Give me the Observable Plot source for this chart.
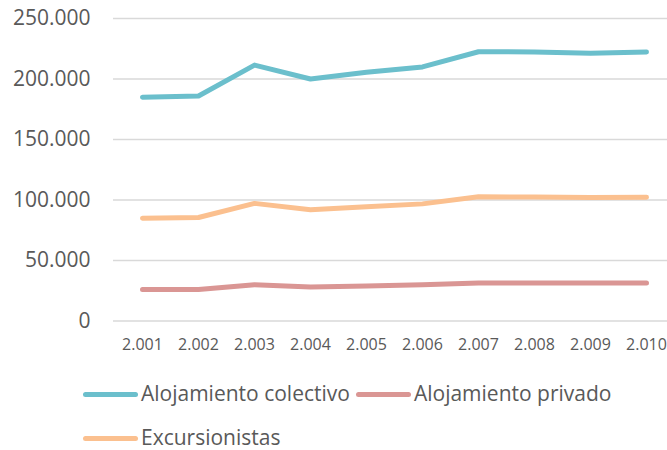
<!DOCTYPE html>
<html>
<head>
<meta charset="utf-8">
<script src="https://cdn.jsdelivr.net/npm/d3@7"></script>
<script src="https://cdn.jsdelivr.net/npm/@observablehq/plot@0.6"></script>
<style>
  html, body { margin: 0; padding: 0; background: #fff; overflow: hidden; }
  body { width: 667px; height: 450px; font-family: "Open Sans", sans-serif; }
  #legend { margin-top: 7px; padding-left: 83px; color: #595959; font-size: 21px; line-height: 1.1; }
  .row { height: 44px; display: flex; align-items: center; }
  .item { display: inline-flex; align-items: center; margin-right: 6px; }
  .swatch { width: 55px; height: 5px; border-radius: 3px; margin-right: 3px; }
</style>
</head>
<body>
<div id="chart"></div>
<div id="legend"></div>
<script>
const years = ["2.001","2.002","2.003","2.004","2.005","2.006","2.007","2.008","2.009","2.010"];
const colectivo = [185000, 186000, 211500, 200000, 205500, 210000, 222500, 222400, 221300, 222300];
const privado = [26000, 26000, 30000, 28000, 29000, 30000, 31500, 31500, 31400, 31400];
const excursionistas = [85000, 85500, 97200, 92000, 94500, 96800, 102600, 102500, 102000, 102300];
const seriesNames = ["Alojamiento colectivo", "Alojamiento privado", "Excursionistas"];
const seriesColors = ["#6bbfcc", "#da9694", "#fbc08f"];
const yTicks = [0, 50000, 100000, 150000, 200000, 250000];

const seriesValues = [colectivo, privado, excursionistas];
const data = seriesNames.flatMap((name, s) =>
  years.map((year, i) => ({ year, value: seriesValues[s][i], series: name })));

const fmt = d3.formatLocale({ decimal: ",", thousands: ".", grouping: [3], currency: ["", ""] }).format(",d");

const width = 667, height = 365;
const marginLeft = 113, marginRight = 0, marginTop = 18, marginBottom = 44.5;
const step = (width + 8 - marginLeft) / years.length;

const chart = Plot.plot({
  width, height, marginLeft, marginRight, marginTop, marginBottom,
  style: { fontFamily: "Open Sans, sans-serif", color: "#595959", background: "#fff", overflow: "visible" },
  x: { type: "point", domain: years, padding: 0, range: [marginLeft + step / 2, width + 8 - step / 2] },
  y: { domain: [0, 250000] },
  color: { domain: seriesNames, range: seriesColors },
  marks: [
    Plot.gridY(yTicks, { stroke: "#d9d9d9", strokeOpacity: 1, strokeWidth: 1.3 }),
    Plot.axisY(yTicks, { tickSize: 0, tickPadding: 23, tickFormat: fmt, fontSize: 21, fill: "#595959", label: null }),
    Plot.axisX(years, { tickSize: 0, tickPadding: 18, fontSize: 16, fill: "#595959", label: null }),
    Plot.line(data, { x: "year", y: "value", z: "series", stroke: "series", strokeWidth: 5, strokeLinecap: "round", strokeLinejoin: "round" })
  ]
});
document.getElementById("chart").appendChild(chart);

const legend = document.getElementById("legend");
const rows = [[0, 1], [2]];
rows.forEach(r => {
  const row = document.createElement("div");
  row.className = "row";
  r.forEach(i => {
    const item = document.createElement("span");
    item.className = "item";
    const sw = document.createElement("span");
    sw.className = "swatch";
    sw.style.background = seriesColors[i];
    const t = document.createElement("span");
    t.textContent = seriesNames[i];
    item.appendChild(sw); item.appendChild(t);
    row.appendChild(item);
  });
  legend.appendChild(row);
});
</script>
</body>
</html>
